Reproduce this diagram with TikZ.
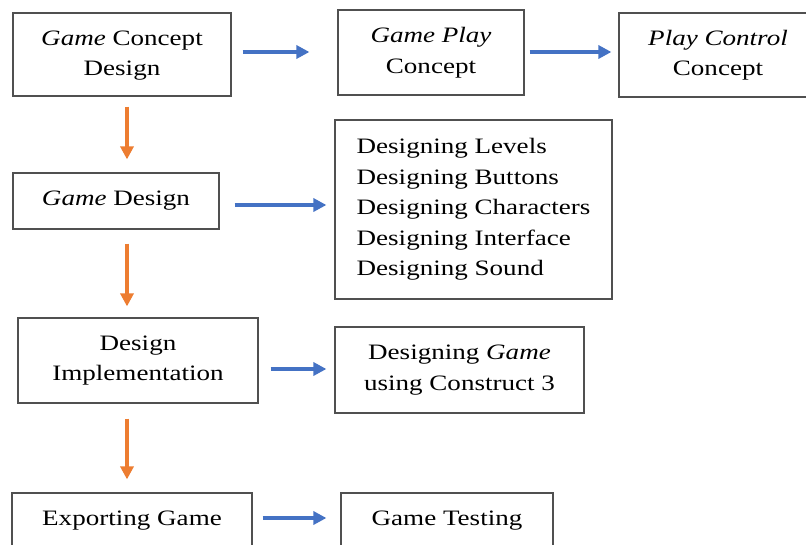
\documentclass[tikz,border=0pt]{standalone}
\usepackage{fontspec}
\setmainfont{Liberation Serif}[FakeStretch=1.23]
\usetikzlibrary{arrows.meta}
\definecolor{arrblue}{HTML}{4472C4}
\definecolor{arrorange}{HTML}{ED7D31}
\definecolor{boxline}{HTML}{505050}
\tikzset{
  box/.style={draw=boxline, line width=1.2pt, fill=white, align=center, inner sep=0pt,
    font=\fontsize{22}{30.5}\selectfont},
  barrow/.style={draw=arrblue, line width=3.4pt, -{Triangle[length=13pt,width=13pt]}},
  oarrow/.style={draw=arrorange, line width=3.4pt, -{Triangle[length=13pt,width=13pt]}}
}
\begin{document}
\begin{tikzpicture}[x=1pt,y=-1pt]
\useasboundingbox (0,0) rectangle (806,544);
\clip (0,0) rectangle (806,544);
% boxes
\node[box, minimum width=218pt, minimum height=83pt] (A) at (122,54.5) {\raisebox{-2pt}{\begin{tabular}{@{}c@{}}\textit{Game} Concept\\Design\end{tabular}}};
\node[box, minimum width=186pt, minimum height=85pt] (B) at (431,52.5) {\textit{Game Play}\\Concept};
\node[box, minimum width=198pt, minimum height=84pt] (C) at (718,55) {\textit{Play Control}\\Concept};
\node[box, minimum width=206pt, minimum height=56pt] (D) at (116,201) {\textit{Game} Design};
\node[box, minimum width=277pt, minimum height=179pt, align=left] (E) at (473.5,209.5)
  {Designing Levels\\Designing Buttons\\Designing Characters\\Designing Interface\\Designing Sound};
\node[box, minimum width=240pt, minimum height=85pt] (F) at (138,360.5) {Design\\Implementation};
\node[box, minimum width=249pt, minimum height=86pt] (G) at (459.5,370) {Designing \textit{Game}\\using Construct 3};
\node[box, minimum width=240pt, minimum height=56pt] (H) at (132,521) {Exporting Game};
\node[box, minimum width=212pt, minimum height=56pt] (I) at (447,521) {Game Testing};
% blue arrows
\draw[barrow, shorten <=11pt, shorten >=28pt] ([yshift=2.5pt]A.east) -- ([yshift=2.5pt]A.east -| B.west);
\draw[barrow, shorten <=5pt, shorten >=7pt] ([yshift=0.5pt]B.east) -- ([yshift=0.5pt]B.east -| C.west);
\draw[barrow, shorten <=15pt, shorten >=8pt] ([yshift=-4pt]D.east) -- ([yshift=-4pt]D.east -| E.west);
\draw[barrow, shorten <=12pt, shorten >=8pt] ([yshift=-8.5pt]F.east) -- ([yshift=-8.5pt]F.east -| G.west);
\draw[barrow, shorten <=10pt, shorten >=14pt] ([yshift=3pt]H.east) -- ([yshift=3pt]H.east -| I.west);
% orange arrows
\coordinate (ox) at (127,0);
\draw[oarrow, shorten <=10pt, shorten >=13pt] (A.south -| ox) -- (D.north -| ox);
\draw[oarrow, shorten <=14pt, shorten >=11pt] (D.south -| ox) -- (F.north -| ox);
\draw[oarrow, shorten <=15pt, shorten >=13pt] (F.south -| ox) -- (H.north -| ox);
\end{tikzpicture}
\end{document}
